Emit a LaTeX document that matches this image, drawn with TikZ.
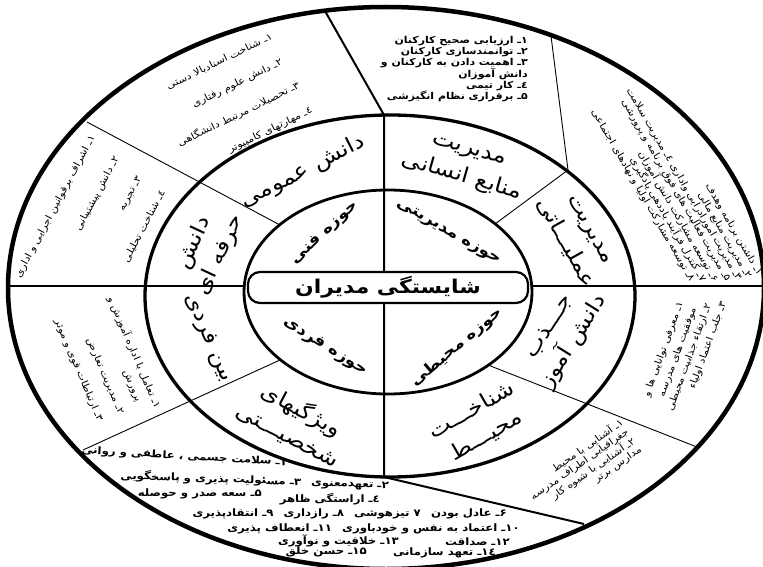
\documentclass[tikz,border=0pt]{standalone}
\usepackage{fontspec}
\newfontfamily\fa[Script=Arabic, FakeStretch=1.15]{DejaVu Sans}
\TeXXeTstate=1
\usepackage{tikz}
\tikzset{
  ringout/.style={line width=4.5pt},
  ringmid/.style={line width=3.3pt},
  ringin/.style={line width=2.8pt},
  divthick/.style={line width=2pt},
  divthin/.style={line width=0.9pt},
  hub/.style={draw, line width=2.2pt, rounded corners=12pt, fill=white, minimum width=280pt, minimum height=31pt, inner sep=0pt, font=\fa\bfseries\fontsize{19}{22}\selectfont},
  core/.style={font=\fa\bfseries\fontsize{15}{17}\selectfont, inner sep=0pt},
  zone/.style={font=\fa\fontsize{21}{29}\selectfont, align=center, inner sep=0pt},
  item/.style={font=\fa\fontsize{9.6}{11}\selectfont, inner sep=0pt, anchor=east},
  itemb/.style={item, font=\fa\bfseries\fontsize{9.5}{11}\selectfont},
  itemc/.style={item, font=\fa\bfseries\fontsize{10.2}{12}\selectfont}
}
\newcommand{\rl}[1]{\beginR#1\endR}

\begin{document}
\begin{tikzpicture}[x=1pt, y=-1pt]
\path[use as bounding box, fill=white] (0,0) rectangle (763,567);
% rings
\coordinate (oc) at (386,288); \coordinate (mc) at (390,296); \coordinate (ic) at (388,292);
\draw[ringout] (oc) ellipse [x radius=378, y radius=281];
\draw[ringmid] (mc) ellipse [x radius=245, y radius=181];
\draw[ringin] (ic) ellipse [x radius=144, y radius=102];
% dividers
\coordinate (tlO) at (87,122); \coordinate (tlI) at (280,225);
\coordinate (tO) at (325,11); \coordinate (tM) at (384,115); \coordinate (bM) at (384,477); \coordinate (bO) at (584,524);
\coordinate (trO) at (551,36); \coordinate (trM) at (568,170); \coordinate (trI) at (495,224);
\coordinate (brI) at (488,365); \coordinate (brO) at (697,447);
\coordinate (blI) at (280,360); \coordinate (blO) at (83,450);
\coordinate (lO) at (8,286); \coordinate (lI) at (244,286); \coordinate (rI) at (532,286); \coordinate (rO) at (764,286);
\draw[divthick] (tO) -- (tM) -- (bM) -- (bO);
\draw[divthick] (lO) -- (lI); \draw[divthick] (rI) -- (rO);
\draw[divthin] (tlO) -- (tlI); \draw[divthin] (trO) -- (trM) -- (trI);
\draw[divthin] (brI) -- (brO); \draw[divthin] (blI) -- (blO);
% centre
\node[hub] (hub) at (388,287.5) {\rl{شایستگی مدیران}};
\node[core, rotate=43] (fanni) at (325,233) {\rl{حوزه فنی}};
\node[core, rotate=-30] (modir) at (448,233) {\rl{حوزه مدیریتی}};
\node[core, rotate=-32] (fardi) at (325,347) {\rl{حوزه فردی}};
\node[core, rotate=40] (mohiti) at (457,347) {\rl{حوزه محیطی}};
% middle ring
\node[zone, rotate=27] (omumi) at (303,172) {\rl{دانش عمومی}};
\node[zone, rotate=-16] (ensani) at (465,166) {\rl{مدیریت}\\\rl{منابع انسانی}};
\node[zone, rotate=-61] (amali) at (576,237) {\rl{مدیریت}\\\rl{عملیـــاتی}};
\node[zone, rotate=58] (jazb) at (563,335) {\rl{جـــذب}\\\rl{دانش آموز}};
\node[zone, rotate=30] (shenakht) at (479,423) {\rl{شناخـــت}\\\rl{محیـــط}};
\node[zone, rotate=-28] (vijegi) at (295,422) {\rl{ویژگیهای}\\\rl{شخصیـــتی}};
\node[zone, rotate=-67] (beyn) at (208,338) {\rl{بین فردی}};
\node[zone, rotate=65] (herfe) at (207,249) {\rl{دانش}\\\rl{حرفه ای}};
% outer ring: top left
\node[item, rotate=26] (tl1) at (272,36) {\rl{۱ـ شناخت اسنادبالا دستی}};
\node[item, rotate=26] (tl2) at (282,62) {\rl{۲ـ دانش علوم رفتاری}};
\node[item, rotate=26] (tl3) at (299,85) {\rl{۳ـ تحصیلات مرتبط دانشگاهی}};
\node[item, rotate=26] (tl4) at (312,110) {\rl{٤ـ مهارتهای کامپیوتر}};
% top
\node[itemb, align=right] (hrm) at (528,69) {\rl{۱ـ ارزیابی صحیح کارکنان}\\\rl{۲ـ توانمندسازی کارکنان}\\\rl{۳ـ اهمیت دادن به کارکنان و}\\\rl{دانش آموزان}\\\rl{٤ـ کار تیمی}\\\rl{۵ـ برقراری نظام انگیزشی}};
% top right
\node[item, rotate=-60] (tr1) at (760,275) {\rl{۱ـ داشتن برنامه وهدف}};
\node[item, rotate=-60] (tr2) at (749,278) {\rl{۲ـ مدیریت منابع مالی}};
\node[item, rotate=-60] (tr3) at (739,280) {\rl{۳ـ مدیریت امورادرایی واداری ٤ـ مدیریت سلامت}};
\node[item, rotate=-60] (tr4) at (728,281) {\rl{۵ـ مدیریت فعالیت های فوق برنامه و پرورشی}};
\node[item, rotate=-60] (tr5) at (716,281) {\rl{۶ـ توسعه مشارکت دانش آموزان}};
\node[item, rotate=-60] (tr6) at (704,281) {\rl{۷ـ کنترل فرآیند یاددهی یادگیری}};
\node[item, rotate=-60] (tr7) at (692,281) {\rl{۸ـ توسعه مشارکت اولیا و نهادهای اجتماعی}};
% right
\node[item, rotate=70] (rt1) at (681,302) {\rl{۱ـ معرفی توانایی ها و}};
\node[item, rotate=70] (rt2) at (694,308) {\rl{موفقیت های مدرسه}};
\node[item, rotate=70] (rt3) at (709,304) {\rl{۲ـ ارتقاء جذابیت محیطی}};
\node[item, rotate=70] (rt4) at (724,302) {\rl{۳ـ جلب اعتماد اولیاء}};
% bottom right
\node[item, rotate=35] (br1) at (622,421) {\rl{۱ـ آشنایی با محیط}};
\node[item, rotate=35] (br2) at (628,431) {\rl{جغرافیایی اطراف مدرسه}};
\node[item, rotate=35] (br3) at (634,440) {\rl{۲ـ آشنایی با شیوه کار}};
\node[item, rotate=35] (br4) at (641,449) {\rl{مدارس برتر}};
% bottom left
\node[item, rotate=-67] (bl1) at (158,408) {\rl{۱ـ تعامل با اداره آموزش و}};
\node[item, rotate=-67] (bl2) at (138,402) {\rl{پرورش}};
\node[item, rotate=-67] (bl3) at (121,414) {\rl{۲ـ مدیریت تعارض}};
\node[item, rotate=-67] (bl4) at (100,421) {\rl{۳ـ ارتباطات قوی و موثر}};
% left
\node[item, rotate=62] (lt1) at (93,136) {\rl{۱ـ اشراف برقوانین اجرایی و اداری}};
\node[item, rotate=62] (lt2) at (117,157) {\rl{۲ـ دانش پیشتیبانی}};
\node[item, rotate=62] (lt3) at (140,177) {\rl{۳ـ تجربه}};
\node[item, rotate=62] (lt4) at (163,191) {\rl{٤ـ شناخت تحلیلی}};
% bottom
\node[itemc, rotate=-3.5] (bt1) at (287,463) {\rl{۱ـ سلامت جسمی ، عاطفی و روانی}};
\node[itemc, rotate=-2] (bt2) at (389,485) {\rl{۲ـ تعهدمعنوی\quad ۳ـ مسئولیت پذیری و پاسخگویی}};
\node[itemc] (bt3) at (262,494) {\rl{۵ـ سعه صدر و حوصله}};
\node[itemc] (bt4) at (380,499) {\rl{٤ـ اراستگی ظاهر}};
\node[itemc] (bt5) at (507,514) {\rl{۶ـ عادل بودن\quad ۷ تیزهوشی\quad ۸ـ رازداری\quad ۹ـ انتقادپذیری}};
\node[itemc] (bt6) at (520,529) {\rl{۱۰ـ اعتماد به نفس و خودباوری\quad ۱۱ـ انعطاف پذیری}};
\node[itemc] (bt7) at (510,542) {\rl{۱۲ـ صداقت}};
\node[itemc] (bt8) at (399,541) {\rl{۱۳ـ خلاقیت و نوآوری}};
\node[itemc] (bt9) at (496,553) {\rl{۱٤ـ تعهد سازمانی}};
\node[itemc] (bt10) at (367,552) {\rl{۱۵ـ حسن خلق}};
\end{tikzpicture}
\end{document}
